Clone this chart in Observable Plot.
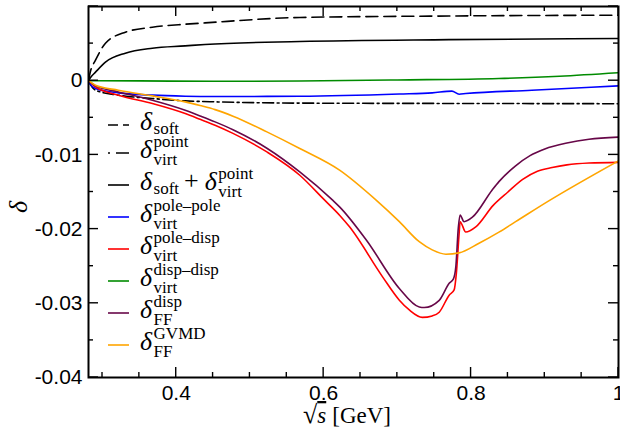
<!DOCTYPE html>
<html><head><meta charset="utf-8">
<script src="https://cdn.jsdelivr.net/npm/d3@7"></script>
<script src="https://cdn.jsdelivr.net/npm/@observablehq/plot@0.6"></script>
<style>body{margin:0;background:#fff}svg{display:block}</style>
</head><body><div id="chart"></div>
<script>
// ---- data ----
const softX = [0.281, 0.2835, 0.2905, 0.304, 0.331, 0.3676, 0.412, 0.439, 0.5676, 0.77, 1.0];
const softY = [0, 0.0012, 0.00276, 0.00505, 0.00654, 0.00721, 0.00761, 0.00779, 0.00852, 0.00872, 0.00883];

const pointX = [0.281, 0.2835, 0.2905, 0.3216, 0.3676, 0.4122, 0.4527, 0.5676, 0.8, 1.0];
const pointY = [0, -0.0005, -0.00128, -0.00195, -0.0024, -0.00272, -0.00285, -0.00302, -0.00307, -0.0031];

const sumX = [0.281, 0.2835, 0.2905, 0.304, 0.331, 0.3676, 0.412, 0.439, 0.5676, 0.77, 1.0];
const sumY = [0, 0.0004, 0.00115, 0.0025, 0.00371, 0.00438, 0.00469, 0.00488, 0.00528, 0.00553, 0.00569];

const ppX = [0.281, 0.2835, 0.2905, 0.3216, 0.3676, 0.4122, 0.4527, 0.5676, 0.7027, 0.7473, 0.774, 0.7838, 0.7928, 0.8824, 1.0];
const ppY = [0, -0.0005, -0.00105, -0.00164, -0.00195, -0.00209, -0.00213, -0.0021, -0.0018, -0.00164, -0.0014, -0.00182, -0.00173, -0.00128, -0.0007];

const pdX = [0.281, 0.2905, 0.3216, 0.3676, 0.4122, 0.4324, 0.4527, 0.477, 0.523, 0.5676, 0.6014, 0.6216, 0.6351, 0.6797, 0.7027, 0.7162, 0.7338, 0.7473, 0.7568, 0.7703, 0.777, 0.7801, 0.7838, 0.7851, 0.7928, 0.8064, 0.83, 0.85, 0.87, 0.89, 0.91, 0.93, 0.96, 1.0];
const pdY = [0, -0.00083, -0.00195, -0.00307, -0.00442, -0.0052, -0.006, -0.0071, -0.0096, -0.01274, -0.0161, -0.01813, -0.0197, -0.0264, -0.02958, -0.0309, -0.0319, -0.0317, -0.0312, -0.0289, -0.0282, -0.0259, -0.0206, -0.019, -0.0204, -0.0197, -0.0168, -0.015, -0.0133, -0.0122, -0.0117, -0.01135, -0.0111, -0.011];

const ddX = [0.281, 0.35, 0.45, 0.5676, 0.7, 0.8378, 0.92, 1.0];
const ddY = [0, -0.00003, -0.00008, -0.00005, 0.0001, 0.0003, 0.0006, 0.00107];

const ffX = [0.281, 0.2905, 0.3216, 0.3676, 0.4122, 0.4324, 0.4527, 0.477, 0.523, 0.5676, 0.6122, 0.6216, 0.6581, 0.7027, 0.7297, 0.7365, 0.7568, 0.7703, 0.7761, 0.7793, 0.7828, 0.7851, 0.7905, 0.8018, 0.8284, 0.8378, 0.86, 0.88, 0.9, 0.93, 0.96, 1.0];
const ffY = [0, -0.0007, -0.00151, -0.00263, -0.00398, -0.00475, -0.00555, -0.0066, -0.0091, -0.01229, -0.0161, -0.017, -0.0215, -0.028, -0.0305, -0.03057, -0.0296, -0.0273, -0.0267, -0.0251, -0.0197, -0.0181, -0.019, -0.0184, -0.01476, -0.0136, -0.0115, -0.0101, -0.0092, -0.0084, -0.0079, -0.0076];

const gvX = [0.281, 0.2905, 0.3216, 0.3676, 0.4122, 0.4324, 0.4527, 0.477, 0.523, 0.5676, 0.6216, 0.6712, 0.7027, 0.7297, 0.7473, 0.7658, 0.7838, 0.8108, 0.8378, 0.8604, 0.9054, 1.0];
const gvY = [0, -0.00061, -0.00128, -0.00205, -0.00285, -0.00335, -0.0039, -0.00478, -0.0069, -0.00914, -0.01206, -0.0161, -0.019, -0.0217, -0.0228, -0.02338, -0.0232, -0.0219, -0.0204, -0.019, -0.0162, -0.0108];

const xTickLabels = [0.4, 0.6, 0.8, 1];
const yTickLabels = [0, -0.01, -0.02, -0.03, -0.04];

// legend labels: list of terms [superscript, subscript]
const legendTerms = [
  [["", "soft"]],
  [["point", "virt"]],
  [["", "soft"], ["point", "virt"]],
  [["pole\u2013pole", "virt"]],
  [["pole\u2013disp", "virt"]],
  [["disp\u2013disp", "virt"]],
  [["disp", "FF"]],
  [["GVMD", "FF"]]
];

// ---- styles ----
const series = [
  {x: softX, y: softY, color: "#000000", dash: "12,6", ldash: "10,5"},
  {x: pointX, y: pointY, color: "#000000", dash: "11,3.5,2,3.5", ldash: "2,6,14,0"},
  {x: sumX, y: sumY, color: "#000000", dash: null, ldash: null},
  {x: ppX, y: ppY, color: "#0000ff", dash: null, ldash: null},
  {x: pdX, y: pdY, color: "#ff0000", dash: null, ldash: null},
  {x: ddX, y: ddY, color: "#008b00", dash: null, ldash: null},
  {x: ffX, y: ffY, color: "#670748", dash: null, ldash: null},
  {x: gvX, y: gvY, color: "#ffa500", dash: null, ldash: null}
];

const serif = "Liberation Serif";
const sans = "Liberation Sans";
const MAIN = 26, SMALL = 17, SUP = -11, SUB = 7, SUBONLY = 4;

function ticksMark(index, scales, values, dim) {
  const {x, y} = scales;
  const top = dim.marginTop, bottom = dim.height - dim.marginBottom;
  const left = dim.marginLeft, right = dim.width - dim.marginRight;
  const g = d3.create("svg:g").attr("stroke", "#000").attr("stroke-width", 1.4);
  for (let k = 6; k <= 20; k++) {
    const v = k * 0.05, major = k % 4 === 0, len = major ? 10 : 5, px = x(v);
    g.append("line").attr("x1", px).attr("x2", px).attr("y1", bottom).attr("y2", bottom - len);
    g.append("line").attr("x1", px).attr("x2", px).attr("y1", top).attr("y2", top + len);
  }
  for (let k = -8; k <= 2; k++) {
    const v = k * 0.005, major = k % 2 === 0, len = major ? 10 : 5, py = y(v);
    g.append("line").attr("y1", py).attr("y2", py).attr("x1", left).attr("x2", left + len);
    g.append("line").attr("y1", py).attr("y2", py).attr("x1", right).attr("x2", right - len);
  }
  return g.node();
}

// Two overlaid <text> runs per entry: one carries the superscripts, the other the
// subscripts; hidden copies keep both runs advancing by the same amount.
function legendMark(index, scales, values, dim) {
  const g = d3.create("svg:g").attr("fill", "#000").attr("font-family", serif).attr("text-anchor", "start");
  let yLine = 125;
  series.forEach((s, i) => {
    if (i > 0) yLine += (i === 1 ? 28 : 32);
    const ln = g.append("line").attr("x1", 108).attr("x2", 129).attr("y1", yLine).attr("y2", yLine)
      .attr("stroke", s.color).attr("stroke-width", 1.6);
    if (s.ldash) ln.attr("stroke-dasharray", s.ldash);
    const B = yLine + 5;
    const t1 = g.append("text").attr("x", 140).attr("y", B);
    const t2 = g.append("text").attr("x", 140).attr("y", B);
    let off1 = 0, off2 = 0;
    const terms = legendTerms[i];
    terms.forEach(([sup, sub], j) => {
      if (j > 0) {
        t1.append("tspan").attr("font-size", MAIN).attr("dx", 5).attr("dy", -off1 - 1).text("+");
        t2.append("tspan").attr("font-size", MAIN).attr("dx", 5).attr("dy", -off2 - 1).attr("fill", "none").text("+");
        off1 = -1; off2 = -1;
      }
      t1.append("tspan").attr("font-size", MAIN).attr("font-style", "italic").attr("dx", j > 0 ? 6 : 0).attr("dy", -off1).text("\u03b4");
      t2.append("tspan").attr("font-size", MAIN).attr("font-style", "italic").attr("dx", j > 0 ? 6 : 0).attr("dy", -off2).attr("fill", "none").text("\u03b4");
      off1 = 0; off2 = 0;
      const subShift = sup ? SUB : SUBONLY;
      if (sup) {
        t1.append("tspan").attr("font-size", SMALL).attr("dx", 1.5).attr("dy", SUP).text(sup);
        off1 = SUP;
      } else {
        t1.append("tspan").attr("font-size", SMALL).attr("dx", 1.5).attr("dy", subShift).attr("fill", "none").text(sub);
        off1 = subShift;
      }
      t2.append("tspan").attr("font-size", SMALL).attr("dx", 1.5).attr("dy", subShift).text(sub);
      off2 = subShift;
    });
  });
  return g.node();
}

function axisLabelsMark(index, scales, values, dim) {
  const g = d3.create("svg:g").attr("fill", "#000").attr("font-family", serif);
  // y label
  g.append("text").attr("transform", "translate(27,207) rotate(-90)").attr("text-anchor", "middle")
    .attr("font-style", "italic").attr("font-size", 26).text("\u03b4");
  // x label: √s [GeV]
  const t = g.append("text").attr("x", 347).attr("y", 423).attr("text-anchor", "middle").attr("font-size", 23);
  t.append("tspan").attr("font-size", 26).text("\u221a");
  t.append("tspan").attr("font-style", "italic").style("text-decoration", "overline").text("s");
  t.append("tspan").attr("dx", 6).text("[GeV]");
  return g.node();
}

const lineMarks = series.map(s => Plot.line(s.x.map((xv, i) => ({x: xv, y: s.y[i]})), {
  x: "x", y: "y", stroke: s.color, strokeWidth: 1.6, curve: "monotone-x",
  strokeDasharray: s.dash ?? undefined, clip: true
}));

const chart = Plot.plot({
  width: 620, height: 432,
  marginLeft: 88, marginRight: 2, marginTop: 6, marginBottom: 55,
  style: {background: "#fff", overflow: "hidden"},
  x: {domain: [0.281, 1.0]},
  y: {domain: [-0.04, 0.01]},
  marks: [
    ...lineMarks,
    Plot.axisX({ticks: xTickLabels, tickSize: 0, tickPadding: 8, fontSize: 21, fontFamily: sans, tickFormat: d => String(d), label: null}),
    Plot.axisY({ticks: yTickLabels, tickSize: 0, tickPadding: 6, fontSize: 21, fontFamily: sans, tickFormat: d => String(d), label: null}),
    Plot.frame({stroke: "#000", strokeWidth: 2}),
    ticksMark,
    legendMark,
    axisLabelsMark
  ]
});
document.getElementById("chart").appendChild(chart);
</script>
</body></html>
